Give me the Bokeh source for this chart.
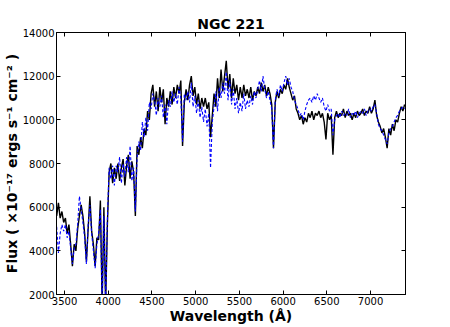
import numpy as np
from bokeh.plotting import figure
from bokeh.models import Range1d, LinearAxis, FixedTicker, ColumnDataSource
from bokeh.embed import file_html
from bokeh.resources import INLINE

# wavelength grid (Angstrom)
wavelength = list(range(3410, 7400, 20))

flux_black = [
    5600, 6200, 5500, 5800, 5300,
    5500, 4800, 5200, 4300, 3300,
    4300, 4000, 5000, 5600, 6100,
    5600, 4800, 3500, 5000, 6500,
    4900, 4300, 3300, 4600, 4500,
    6300, 1500, 6000, 1500, 5200,
    7600, 8000, 7100, 7800, 7300,
    8000, 7200, 7800, 8200, 7000,
    7900, 8400, 7300, 8100, 7600,
    5600, 8800, 8400, 9200, 8700,
    9600, 9300, 10400, 10000, 11200,
    11600, 10600, 11300, 10400, 11500,
    10800, 11400, 9800, 11000, 10600,
    11300, 10700, 11500, 11000, 11600,
    11200, 11800, 8800, 10800, 11400,
    10900, 11600, 12000, 11100, 11500,
    10700, 11200, 10500, 11000, 10600,
    11000, 10500, 10800, 9200, 10200,
    11200, 10600, 11900, 11000, 12300,
    11300, 12000, 12700, 11400, 12100,
    11000, 11900, 11200, 11600, 10900,
    11500, 11000, 11600, 11100, 11400,
    11000, 11500, 10900, 11300, 11100,
    11500, 11200, 11700, 11300, 11600,
    11100, 11500, 11200, 10700, 8700,
    10800, 11300, 11000, 11400, 11200,
    11600, 11400, 11900, 11500, 11200,
    10900, 11100, 10500, 10300, 10000,
    10200, 9800, 10100, 9900, 10300,
    10100, 10400, 10000, 10300, 10200,
    10400, 10100, 10300, 9900, 9100,
    10300, 10000, 10200, 8400, 10100,
    10400, 10100, 10300, 10200, 10500,
    10100, 10400, 10200, 10300, 10000,
    10300, 10100, 10400, 10200, 10300,
    10500, 10200, 10400, 10300, 10600,
    10300, 10500, 10900, 10200, 9900,
    9700, 9400, 9600, 9200, 8700,
    9600, 9300, 9800, 9500, 10000,
    9900, 10300, 10600, 10400, 10700,
]

flux_blue = [
    5100, 3900, 4800, 5200, 4900,
    5200, 4600, 4900, 4100, 3400,
    4100, 4300, 5200, 6500, 5900,
    5300, 4600, 3400, 5200, 6100,
    4800, 4000, 3200, 4300, 4800,
    5900, 1500, 5600, 1500, 5400,
    7800, 7300, 7900, 7000, 7900,
    7600, 8300, 7100, 8000, 7400,
    8300, 7600, 8800, 7200, 7800,
    5800, 8300, 9000, 8600, 9900,
    9200, 10100, 9500, 10800, 10500,
    11200, 10900, 10200, 11000, 10600,
    11100, 10100, 10700, 9800, 10900,
    10600, 11300, 10800, 11200, 10700,
    11500, 11000, 9000, 11200, 10900,
    11300, 10800, 11700, 10600, 11100,
    10300, 10900, 10100, 10600, 9900,
    10500, 9700, 10300, 7800, 9900,
    10600, 11300, 10400, 11500, 11000,
    11700, 11200, 12200, 10900, 11800,
    10700, 11400, 10500, 11000, 10300,
    10800, 10400, 11200, 10500, 10900,
    10600, 11100, 10700, 11300, 11000,
    11400, 11800, 11300, 12000, 11400,
    11000, 11300, 10900, 10500, 8700,
    10900, 11400, 11100, 11600, 11300,
    11700, 12000, 11600, 11900, 11500,
    11300, 10900, 10700, 10500, 10200,
    10300, 10000, 10400, 10700, 10900,
    11000, 10800, 11100, 10900, 11200,
    11000, 10800, 11000, 10600, 10400,
    10700, 10400, 10500, 9300, 10000,
    10200, 10300, 10100, 10400, 10200,
    10300, 10200, 10500, 10100, 10300,
    10200, 10400, 10100, 10300, 10400,
    10300, 10500, 10200, 10400, 10500,
    10400, 10600, 10700, 10300, 9800,
    9600, 9500, 9300, 9100, 8900,
    9400, 9600, 9700, 9900, 10100,
    10200, 10400, 10500, 10600, 10500,
]

x_ticks = [3500, 4000, 4500, 5000, 5500, 6000, 6500, 7000]
y_ticks = [2000, 4000, 6000, 8000, 10000, 12000, 14000]

FONT = "DejaVu Sans"

src = ColumnDataSource(dict(w=wavelength, fb=flux_black, fbl=flux_blue))

p = figure(width=450, height=327, output_backend="svg", toolbar_location=None,
           x_range=Range1d(3408, 7400), y_range=Range1d(2000, 14000),
           x_axis_label="Wavelength (Å)",
           y_axis_label="Flux ( ×10⁻¹⁷ ergs s⁻¹ cm⁻² )",
           title="NGC 221",
           min_border_left=56, min_border_right=45, min_border_top=32, min_border_bottom=33)

p.title.align = "center"
p.title.text_font = FONT
p.title.text_font_size = "14px"
p.title.text_font_style = "bold"
p.title.text_color = "black"
p.title.standoff = 2
p.title.offset = 0

p.xgrid.visible = False
p.ygrid.visible = False
p.outline_line_color = "black"
p.outline_line_width = 1
p.background_fill_color = "white"
p.border_fill_color = "white"

p.line("w", "fb", source=src, line_color="black", line_width=1.4)
p.line("w", "fbl", source=src, line_color="blue", line_width=1.1, line_dash="3 2")

for ax, ticks in ((p.xaxis[0], x_ticks), (p.yaxis[0], y_ticks)):
    ax.ticker = FixedTicker(ticks=ticks)
    ax.major_tick_in = 4
    ax.major_tick_out = 0
    ax.minor_tick_line_color = None
    ax.major_label_text_font = FONT
    ax.major_label_text_font_size = "10px"
    ax.major_label_text_color = "black"
    ax.major_label_standoff = 2
    ax.axis_label_text_font = FONT
    ax.axis_label_text_font_size = "14px"
    ax.axis_label_text_font_style = "bold"
    ax.axis_label_text_color = "black"
    ax.axis_label_standoff = 0
    ax.axis_line_color = "black"
    ax.major_tick_line_color = "black"

top = LinearAxis(ticker=FixedTicker(ticks=x_ticks), major_label_text_font_size="1px",
                 major_label_text_color=None,
                 major_tick_in=4, major_tick_out=0, minor_tick_line_color=None,
                 major_label_standoff=0)
right = LinearAxis(ticker=FixedTicker(ticks=y_ticks), major_label_text_font_size="1px",
                   major_label_text_color=None,
                   major_tick_in=4, major_tick_out=0, minor_tick_line_color=None,
                   major_label_standoff=0)
p.add_layout(top, "above")
p.add_layout(right, "right")

open("out.html", "w").write(file_html(p, INLINE))
